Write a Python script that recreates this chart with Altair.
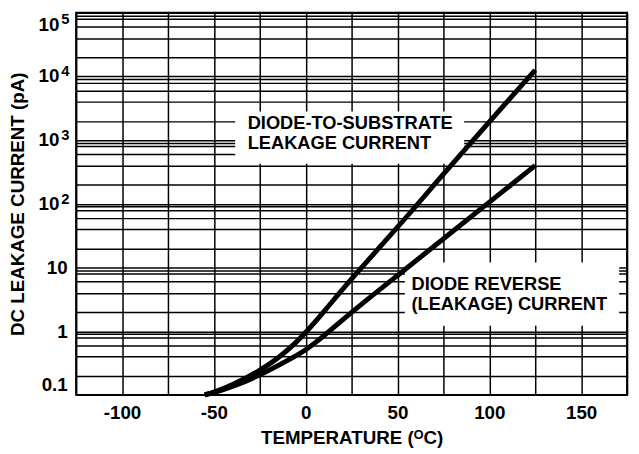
import altair as alt
import pandas as pd

# ---- data ----
# Diode-to-substrate leakage current (upper curve)
sub_temp = [-55, -50, -40, -25, -15, -5, 0, 10, 25, 50, 75, 100, 125]
sub_current = [0.1, 0.11, 0.141, 0.24, 0.375, 0.67, 0.95, 2.03, 6.8, 42, 295, 1950, 12600]

# Diode reverse (leakage) current (lower curve)
rev_temp = [-55, -50, -40, -25, -10, 0, 10, 25, 50, 75, 100, 125]
rev_current = [0.1, 0.108, 0.133, 0.202, 0.345, 0.5, 0.84, 2.0, 7.5, 28.2, 106, 400]

# axis ticks / grid
x_grid = [-125, -100, -75, -50, -25, 0, 25, 50, 75, 100, 125, 150, 175]
x_label_values = [-100, -50, 0, 50, 100, 150]
y_grid = [0.1, 0.2, 0.4, 0.6, 0.8, 0.9,
          1, 2, 4, 6, 8, 9,
          10, 20, 40, 60, 80, 90,
          100, 200, 400, 600, 800, 900,
          1000, 2000, 4000, 6000, 8000, 9000,
          10000, 20000, 40000, 60000, 80000, 90000,
          100000]
y_plain_values = [0.1, 1, 10]
y_plain_texts = ["0.1", "1", "10"]
y_power_values = [100, 1000, 10000, 100000]
y_power_base = ["10", "10", "10", "10"]
y_power_exp = ["2", "3", "4", "5"]

# annotations (anchor in data units)
ann_texts = ["DIODE-TO-SUBSTRATE\nLEAKAGE CURRENT", "DIODE REVERSE\n(LEAKAGE) CURRENT"]
ann_temp = [-31.6, 57.6]
ann_current = [1480, 4.4]
box_t1 = [-38.4, 54]
box_t2 = [86.3, 170.7]
box_i1 = [425, 1.22]
box_i2 = [2818, 12]

FONT = "Liberation Sans"
FS = 19

curves = pd.concat([
    pd.DataFrame({"T": sub_temp, "I": sub_current, "s": "substrate"}),
    pd.DataFrame({"T": rev_temp, "I": rev_current, "s": "reverse"}),
])
ann_df = pd.DataFrame({"T": ann_temp, "I": ann_current, "label": ann_texts})
box_df = pd.DataFrame({"T": box_t1, "T2": box_t2, "I": box_i1, "I2": box_i2})
pow_df = pd.DataFrame({"I": y_power_values, "base": y_power_base, "exp": y_power_exp,
                       "T": [-125] * len(y_power_values)})

x_expr = " || ".join(f"datum.value == {v}" for v in x_label_values)
x_axis = alt.Axis(
    values=x_grid,
    labelExpr=f"({x_expr}) ? toString(datum.value) : ''",
    title="TEMPERATURE (ᴼC)",
    grid=True, gridColor="black", gridWidth=1.5, gridOpacity=1,
    ticks=False, tickSize=0, domain=False,
    labelFont=FONT, labelFontWeight="bold", labelFontSize=FS, labelColor="black",
    labelPadding=9, labelOverlap=False, labelFlush=False,
    titleFont=FONT, titleFontWeight="bold", titleFontSize=FS, titleColor="black",
    titleY=49, titleBaseline="alphabetic",
    zindex=0,
)
y_expr = " : ".join(f"datum.value == {v} ? '{t}'" for v, t in zip(y_plain_values, y_plain_texts)) + " : ''"
y_axis = alt.Axis(
    values=y_grid,
    labelExpr=y_expr,
    title="DC LEAKAGE CURRENT (pA)",
    grid=True, gridColor="black", gridWidth=1.5, gridOpacity=1,
    ticks=False, tickSize=0, domain=False,
    labelFont=FONT, labelFontWeight="bold", labelFontSize=FS, labelColor="black",
    labelPadding=9, labelOverlap=False, labelFlush=True,
    titleFont=FONT, titleFontWeight="bold", titleFontSize=FS, titleColor="black",
    titleX=-53, titleBaseline="alphabetic",
    zindex=0,
)
x_scale = alt.Scale(domain=[-125, 175], nice=False, zero=False)
y_scale = alt.Scale(type="log", domain=[0.1, 100000], nice=False)

X = alt.X("T:Q", scale=x_scale, axis=x_axis)
Y = alt.Y("I:Q", scale=y_scale, axis=y_axis)

boxes = alt.Chart(box_df).mark_rect(fill="white", stroke=None).encode(
    x=X, x2="T2:Q", y=Y, y2="I2:Q",
)

labels = alt.Chart(ann_df).mark_text(
    align="left", baseline="alphabetic", font=FONT, fontWeight="bold",
    fontSize=18.5, lineBreak="\n", lineHeight=20, color="black",
).encode(x=X, y=Y, text="label:N")

lines = alt.Chart(curves).mark_line(
    color="black", strokeWidth=5, interpolate="basis",
).encode(x=X, y=Y, detail="s:N")

# power-of-ten tick labels (base + superscript exponent)
txt = dict(font=FONT, fontWeight="bold", color="black")
pow_mid = alt.Chart(pow_df).transform_filter("datum.I < 100000")
pow_top = alt.Chart(pow_df).transform_filter("datum.I >= 100000")
base_mid = pow_mid.mark_text(align="right", baseline="middle", dx=-17, fontSize=FS, **txt).encode(
    x=X, y=Y, text="base:N")
exp_mid = pow_mid.mark_text(align="left", baseline="middle", dx=-15, dy=-5, fontSize=15, **txt).encode(
    x=X, y=Y, text="exp:N")
base_top = pow_top.mark_text(align="right", baseline="top", dx=-17, dy=3, fontSize=FS, **txt).encode(
    x=X, y=Y, text="base:N")
exp_top = pow_top.mark_text(align="left", baseline="top", dx=-15, dy=-1, fontSize=15, **txt).encode(
    x=X, y=Y, text="exp:N")

chart = alt.layer(boxes, labels, lines, base_mid, exp_mid, base_top, exp_top).properties(
    width=558, height=387,
    padding={"left": 69, "top": 2, "right": 4, "bottom": 53},
    autosize=alt.AutoSizeParams(type="none"),
    background="white",
).configure_view(stroke="black", strokeWidth=2)

chart.save("out.html", embed_options={"renderer": "svg", "actions": False})
